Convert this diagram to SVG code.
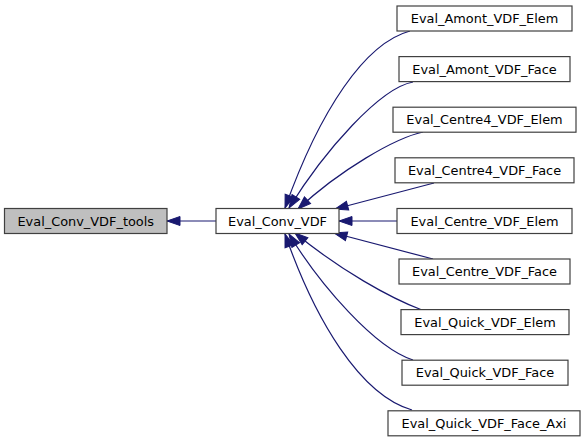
<svg xmlns="http://www.w3.org/2000/svg" width="587" height="443" viewBox="0 0 587 443">
<style>
  .node rect { fill: #ffffff; stroke: #404040; stroke-width: 1.2; }
  .root rect { fill: #bfbfbf; }
  .node text { font-family: "DejaVu Sans", sans-serif; font-size: 12.9px; fill: #000000; text-anchor: middle; }
  .edge { fill: none; stroke: #191970; stroke-width: 1.2; marker-end: url(#arr); }
</style>
<defs>
  <marker id="arr" markerUnits="userSpaceOnUse" markerWidth="16" markerHeight="12" viewBox="0 -6 14 12" refX="13" refY="0" orient="auto">
    <path d="M0,-4.5 L13,0 L0,4.5 Z" fill="#191970" stroke="#191970" stroke-width="1"/>
  </marker>
</defs>
<rect width="587" height="443" fill="#ffffff"/>
<g id="connectors">
  <path class="edge" d="M216,221 L167,221"/>
  <path class="edge" d="M410,31 C365,43 320,110 285,208"/>
  <path class="edge" d="M413,82 C380,88 325,150 289,208"/>
  <path class="edge" d="M423,132 C395,138 340,170 298,209"/>
  <path class="edge" d="M434,183 L335,209"/>
  <path class="edge" d="M397,221 L339,221"/>
  <path class="edge" d="M433,259 L334,233"/>
  <path class="edge" d="M422,310 C390,298 340,270 295,233"/>
  <path class="edge" d="M413,360 C375,348 320,285 289,234"/>
  <path class="edge" d="M412,410 C360,395 315,320 285,234"/>
</g>
<g id="node_tools" class="node root">
  <rect x="4.5" y="208.5" width="162.5" height="25"/>
  <text x="85.75" y="225.5">Eval_Conv_VDF_tools</text>
</g>
<g id="node_conv" class="node">
  <rect x="216" y="208.5" width="123" height="25"/>
  <text x="277.5" y="225.5">Eval_Conv_VDF</text>
</g>
<g id="node_amont_elem" class="node">
  <rect x="397" y="6" width="175" height="25"/>
  <text x="484.5" y="23">Eval_Amont_VDF_Elem</text>
</g>
<g id="node_amont_face" class="node">
  <rect x="399" y="56.6" width="171" height="25"/>
  <text x="484.5" y="73.6">Eval_Amont_VDF_Face</text>
</g>
<g id="node_centre4_elem" class="node">
  <rect x="393" y="107.2" width="183" height="25"/>
  <text x="484.5" y="124.2">Eval_Centre4_VDF_Elem</text>
</g>
<g id="node_centre4_face" class="node">
  <rect x="395" y="157.8" width="179" height="25"/>
  <text x="484.5" y="174.8">Eval_Centre4_VDF_Face</text>
</g>
<g id="node_centre_elem" class="node">
  <rect x="397" y="208.5" width="175" height="25"/>
  <text x="484.5" y="225.5">Eval_Centre_VDF_Elem</text>
</g>
<g id="node_centre_face" class="node">
  <rect x="399" y="259" width="171" height="25"/>
  <text x="484.5" y="276">Eval_Centre_VDF_Face</text>
</g>
<g id="node_quick_elem" class="node">
  <rect x="401" y="309.6" width="168" height="25"/>
  <text x="485" y="326.6">Eval_Quick_VDF_Elem</text>
</g>
<g id="node_quick_face" class="node">
  <rect x="402" y="360.2" width="166" height="25"/>
  <text x="485" y="377.2">Eval_Quick_VDF_Face</text>
</g>
<g id="node_quick_face_axi" class="node">
  <rect x="388" y="410.8" width="192" height="25"/>
  <text x="484" y="427.8">Eval_Quick_VDF_Face_Axi</text>
</g>
</svg>
